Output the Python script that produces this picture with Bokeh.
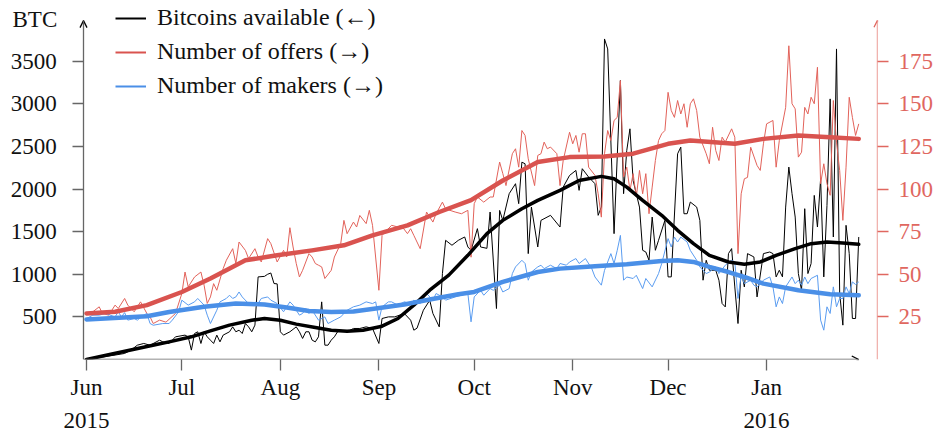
import pandas as pd
from bokeh.plotting import figure
from bokeh.models import (Range1d, LinearAxis, FixedTicker, Arrow, OpenHead,
                          Legend, LegendItem, Label)
from bokeh.embed import file_html
from bokeh.resources import INLINE

START = "2015-06-01"

# ---- Bitcoins available (left axis), day offset from START ----
btc_days = [0, 5, 9, 12, 14, 16, 18, 20, 23, 24,
            26, 28, 31, 32, 33, 34, 35, 36, 37, 38,
            39, 40, 41, 42, 43, 45, 46, 47, 48, 49,
            50, 51, 52, 53, 54, 56, 57, 58, 59, 60,
            61, 62, 64, 66, 67, 68, 69, 70, 71, 72,
            73, 74, 75, 76, 77, 78, 79, 80, 82, 84,
            86, 88, 90, 92, 93, 95, 97, 100, 102, 103,
            104, 106, 108, 109, 111, 112, 113, 115, 117, 119,
            120, 121, 123, 124, 126, 127, 129, 130, 131, 133,
            135, 136, 137, 138, 139, 140, 142, 143, 146, 149,
            150, 152, 154, 155, 156, 158, 160, 161, 162, 163,
            164, 166, 168, 169, 170, 171, 172, 174, 175, 176,
            177, 178, 179, 180, 182, 183, 184, 186, 187, 188,
            189, 190, 192, 193, 194, 195, 196, 198, 199, 200,
            201, 202, 203, 204, 205, 206, 207, 208, 210, 211,
            213, 215, 216, 217, 218, 219, 220, 221, 222, 223,
            224, 225, 226, 227, 228, 229, 230, 231, 232, 233,
            234, 235, 236, 237, 238, 239, 240, 241, 242, 243]
btc_vals = [0, 30, 52, 71, 110, 168, 188, 168, 227, 207,
            188, 266, 286, 266, 110, 305, 325, 188, 325, 266,
            227, 188, 286, 207, 286, 325, 383, 325, 344, 305,
            422, 383, 325, 403, 969, 975, 1000, 1015, 891, 887,
            325, 286, 325, 383, 325, 247, 325, 325, 227, 207,
            266, 676, 168, 168, 227, 266, 325, 344, 325, 364,
            364, 383, 364, 188, 481, 500, 500, 540, 461, 344,
            367, 578, 695, 540, 383, 1008, 1398, 1340, 1398, 1437,
            1320, 1281, 1535, 1320, 1304, 1730, 598, 1749, 1632, 1945,
            2062, 1828, 2315, 2296, 1242, 1788, 1320, 1632, 1691, 1554,
            2022, 2159, 2218, 1984, 2238, 2140, 2062, 1691, 1788, 3760,
            3643, 1476, 3272, 1945, 2452, 2706, 2100, 1788, 1281, 1261,
            1164, 1671, 1281, 1398, 1632, 969, 969, 2413, 2491, 1710,
            1710, 1847, 1788, 1632, 930, 1164, 1047, 1047, 930, 657,
            617, 1242, 1301, 851, 422, 1047, 851, 1242, 1203, 734,
            1242, 1261, 1242, 969, 1047, 969, 1788, 2257, 1945, 1671,
            1008, 813, 1769, 1008, 1125, 1925, 1554, 2121, 969, 1808,
            3057, 1437, 3643, 774, 403, 1574, 1242, 481, 481, 1437]

# ---- Number of offers (right axis) ----
offer_days = [0, 2, 4, 5, 7, 9, 10, 12, 13, 15,
              17, 19, 20, 21, 23, 25, 28, 30, 31, 32,
              34, 36, 37, 38, 39, 40, 41, 43, 44, 46,
              47, 48, 50, 51, 53, 54, 55, 57, 58, 60,
              62, 63, 64, 65, 66, 67, 68, 70, 71, 72,
              73, 74, 75, 77, 78, 80, 81, 82, 84, 85,
              86, 88, 89, 90, 92, 93, 96, 98, 99, 101,
              102, 103, 105, 107, 109, 110, 112, 113, 116, 118,
              120, 121, 122, 123, 125, 127, 128, 130, 131, 132,
              134, 135, 136, 137, 138, 139, 141, 142, 143, 144,
              145, 146, 148, 149, 150, 152, 153, 154, 155, 156,
              157, 158, 160, 161, 162, 163, 164, 165, 166, 167,
              168, 169, 170, 171, 172, 173, 174, 175, 176, 177,
              178, 179, 180, 181, 182, 183, 184, 185, 186, 187,
              188, 189, 190, 191, 192, 193, 195, 196, 197, 198,
              199, 200, 201, 203, 204, 205, 206, 207, 208, 209,
              211, 212, 213, 214, 216, 217, 218, 220, 221, 222,
              223, 224, 225, 226, 227, 228, 229, 230, 231, 232,
              233, 234, 235, 236, 237, 238, 239, 240, 241, 242,
              243]
offer_vals = [27, 28, 30.9, 27, 26, 31.9, 29.9, 35.8, 31.9, 28,
              33.8, 27, 25, 21.1, 23.1, 21.9, 27, 38.7, 51.3, 42.6,
              48.4, 51.3, 43.6, 32.9, 36.7, 44.5, 40.6, 53.3, 58.2, 65,
              56.3, 68.9, 64, 59.2, 65, 60.1, 57.2, 70.9, 68, 57.2,
              64, 60.1, 77.3, 66, 56.3, 48.4, 52.3, 62.1, 60.1, 56.3,
              55.3, 54.3, 47.5, 52.3, 60.1, 68, 81.6, 73.8, 80.6, 77.7,
              84.5, 79.7, 87.5, 78.7, 40.6, 72.8, 78.7, 77.7, 78.7, 73.8,
              76.7, 72.8, 65, 86.5, 80.6, 85.5, 92.3, 88.3, 86.5, 85.5,
              87.5, 60, 91.4, 95.3, 92.3, 95.3, 95.3, 115.8, 109, 102,
              120.7, 123.6, 112.8, 134.3, 131.4, 117.7, 102, 119.7, 120.7, 127.5,
              123.6, 124.6, 120.7, 102, 116.7, 133.3, 126.5, 131.4, 121.6, 132.4,
              132.4, 112.8, 108, 97.2, 83.5, 120.7, 134.3, 128.4, 140.2, 142,
              163.6, 107, 112.8, 99.2, 109, 95.3, 110.9, 97.2, 109, 85.5,
              101.1, 116.7, 128.4, 132.4, 134.3, 156.7, 146, 142, 151.9, 144,
              150, 136.2, 150, 152.9, 146, 130.4, 120.7, 114.8, 136.2, 122.6,
              116.7, 130.4, 127.5, 135.3, 130.4, 62.1, 97.2, 106, 106.8, 124.5,
              113.8, 110.9, 126.5, 138.2, 140.2, 112.8, 128.4, 147.9, 184, 150,
              147, 118.7, 121.6, 147.9, 144, 153.8, 150, 171.4, 103.1, 114.8,
              103.1, 96.3, 151.9, 127.5, 110.9, 81.6, 112.8, 153.8, 142, 131.4,
              138.2]

# ---- Number of makers (right axis) ----
maker_days = [0, 2, 4, 6, 9, 10, 11, 12, 13, 15,
              16, 18, 19, 20, 21, 24, 26, 27, 29, 30,
              32, 34, 35, 37, 38, 39, 41, 42, 44, 45,
              46, 47, 48, 49, 51, 52, 54, 55, 57, 58,
              60, 62, 63, 64, 65, 67, 68, 69, 70, 71,
              73, 75, 76, 78, 80, 81, 82, 84, 86, 88,
              90, 91, 92, 93, 95, 96, 98, 100, 102, 103,
              105, 107, 109, 110, 112, 113, 116, 118, 120, 121,
              122, 124, 125, 127, 128, 130, 131, 133, 134, 135,
              137, 138, 139, 140, 142, 143, 144, 146, 148, 149,
              151, 152, 154, 155, 157, 159, 160, 162, 163, 165,
              166, 167, 168, 169, 170, 172, 173, 175, 176, 178,
              180, 181, 183, 184, 185, 186, 187, 189, 190, 192,
              193, 195, 196, 198, 199, 201, 203, 204, 205, 206,
              207, 209, 210, 211, 213, 215, 216, 217, 218, 219,
              220, 222, 223, 224, 225, 226, 227, 228, 230, 231,
              232, 233, 234, 235, 236, 237, 238, 239, 240, 241,
              242, 243]
maker_vals = [24, 26, 26, 27, 25, 28, 25, 27.5, 23.1, 24,
              23.1, 26, 27, 21.1, 20.1, 21.1, 21.1, 23.1, 28, 34.8,
              31.9, 33.8, 35.8, 31.9, 26, 21.1, 28.9, 33.8, 35.8, 37.7,
              35.8, 36.7, 39.6, 36.7, 32.8, 31.9, 32.8, 35.8, 36.7, 34.8,
              32.8, 28, 30.9, 33.8, 31.9, 26, 27, 29.9, 27, 28.9,
              23.1, 25, 21.1, 23.1, 25, 27, 28.9, 30.9, 31.9, 33.8,
              32.8, 33.8, 23.1, 30.9, 33.8, 33.8, 31.9, 33.8, 32.8, 34.8,
              32.8, 38.7, 34.8, 38.7, 36.7, 34.8, 36.7, 37.7, 38.7, 22.1,
              36.7, 40.6, 37.7, 41.6, 40.6, 43.6, 39.6, 41.6, 50.4, 54.3,
              58.2, 56.3, 46.5, 51.3, 54.3, 55.3, 53.3, 55.3, 53.3, 56.3,
              55.3, 57.2, 59.2, 56.3, 59.2, 53.3, 48.4, 43.6, 52.3, 62.1,
              56.3, 64, 72.8, 46.5, 48.4, 47.5, 49.4, 41.6, 47.5, 42.6,
              50.4, 56.3, 70.9, 66, 71.8, 68.9, 71.8, 68.9, 64, 58.2,
              54.3, 50.4, 51.3, 54.3, 50.4, 55.3, 58.2, 57.2, 35.8, 49.4,
              44.5, 46.5, 43.6, 42.6, 46.5, 48.4, 42.6, 30.9, 36.7, 32.8,
              42.6, 48.4, 44.5, 46.5, 43.6, 48.4, 44.5, 47.5, 49.4, 23.1,
              17.2, 30.9, 27, 42.6, 30.9, 35.8, 35.8, 42.6, 38.7, 45.5,
              44, 45.5]

# ---- smoothed trends ----
btc_trend_days = [0, 8, 15, 22, 26, 33, 39, 45, 52, 56,
                  61, 66, 72, 77, 82, 87, 93, 98, 103, 108,
                  114, 120, 126, 131, 137, 142, 149, 155, 162, 166,
                  170, 175, 181, 186, 191, 196, 202, 207, 212, 217,
                  223, 228, 233, 238, 243]
btc_trend_vals = [0, 64, 120, 175, 207, 266, 336, 403, 461, 481,
                  461, 415, 376, 344, 332, 344, 391, 481, 637, 813,
                  990, 1222, 1476, 1632, 1769, 1866, 1984, 2100, 2148, 2121,
                  2022, 1866, 1691, 1515, 1359, 1222, 1144, 1117, 1144, 1222,
                  1301, 1359, 1378, 1367, 1351]
offer_trend_days = [0, 9, 19, 30, 39, 50, 60, 71, 81, 90,
                    101, 111, 121, 131, 142, 152, 163, 172, 183, 190,
                    204, 213, 224, 234, 243]
offer_trend_vals = [27, 28, 31.9, 39.6, 47.5, 58.2, 61.1, 64, 67, 72.8,
                    78.7, 86.5, 93.5, 105, 115.8, 118.7, 119, 120.7, 126.5, 128.4,
                    126.5, 129.4, 131.4, 130.4, 129.4]
maker_trend_days = [0, 19, 26, 37, 47, 56, 63, 70, 77, 84,
                    91, 100, 108, 117, 122, 131, 142, 149, 160, 170,
                    181, 186, 191, 196, 202, 207, 213, 224, 234, 243]
maker_trend_vals = [23.5, 25.4, 27.9, 30.9, 32.8, 32.3, 30.5, 28.5, 27.8, 28.2,
                    29.9, 32.3, 35.2, 38.3, 39.6, 45.5, 51.3, 53.3, 54.7, 55.9,
                    57.8, 58.2, 57.2, 54.3, 51.3, 48.4, 44.5, 40.6, 38.3, 37.7]

month_ticks = ["2015-06-01", "2015-07-01", "2015-08-01", "2015-09-01",
               "2015-10-01", "2015-11-01", "2015-12-01", "2016-01-01"]
month_labels = ["Jun\n2015", "Jul", "Aug", "Sep", "Oct", "Nov", "Dec", "Jan\n2016"]
btc_ticks = [500, 1000, 1500, 2000, 2500, 3000, 3500]
count_ticks = [25, 50, 75, 100, 125, 150, 175]
legend_labels = ["Bitcoins available (\u2190)", "Number of offers (\u2192)",
                 "Number of makers (\u2192)"]
left_unit = "BTC"

t0 = pd.Timestamp(START)
NAN = float("nan")


def dates(days):
    return (t0 + pd.to_timedelta(days, unit="D")).values


def ms(ts):
    return pd.Timestamp(ts).value / 1e6


PX_PER_DAY = 3.178
FRAME_W, FRAME_H = 877, 359
BTC_TOP = 4000 * FRAME_H / 341.0          # 0..4000 spans 341 px
x_axis_pos = t0 - pd.Timedelta(days=0.944)                 # where the y axis sits
x_lo = x_axis_pos - pd.Timedelta(days=83 / PX_PER_DAY)     # room for y tick labels
x_hi = x_lo + pd.Timedelta(days=FRAME_W / PX_PER_DAY)
x_axis_end = t0 + pd.Timedelta(days=243)

FONT = "Liberation Serif"
RED = "#d9534f"
RED_THIN = "#e2625a"
RED_AXIS = "#e0675f"
BLUE = "#4a8fe7"
BLUE_THIN = "#5a9cf0"
GREY = "#666666"

p = figure(x_axis_type="datetime", frame_width=FRAME_W, frame_height=FRAME_H,
           min_border_left=0, min_border_right=60, min_border_top=0,
           min_border_bottom=75,
           x_range=Range1d(x_lo, x_hi), y_range=Range1d(0, BTC_TOP),
           output_backend="svg", toolbar_location=None)
p.extra_y_ranges = {"cnt": Range1d(0, BTC_TOP / 20.0)}
p.outline_line_color = None
p.grid.visible = False
p.background_fill_color = "white"

# raw series
p.line(dates(btc_days), btc_vals, color="black", line_width=1)
p.line(dates(offer_days), offer_vals, color=RED_THIN, line_width=1, y_range_name="cnt")
p.line(dates(maker_days), maker_vals, color=BLUE_THIN, line_width=1, y_range_name="cnt")
# trends
p.line(dates(btc_trend_days), btc_trend_vals, color="black", line_width=3.5,
       line_join="round", line_cap="round")
p.line(dates(offer_trend_days), offer_trend_vals, color=RED, line_width=4.5,
       line_join="round", line_cap="round", y_range_name="cnt")
p.line(dates(maker_trend_days), maker_trend_vals, color=BLUE, line_width=4.5,
       line_join="round", line_cap="round", y_range_name="cnt")

# axes
xa = p.xaxis[0]
xa.ticker = FixedTicker(ticks=[ms(t) for t in month_ticks])
xa.major_label_overrides = {ms(t): lab for t, lab in zip(month_ticks, month_labels)}
xa.axis_line_color = None
xa.major_tick_out = 11
xa.major_tick_in = 0
xa.minor_tick_line_color = None
xa.major_tick_line_color = GREY
xa.major_tick_line_width = 1.3
xa.major_label_text_font = FONT
xa.major_label_text_font_size = "23px"
xa.major_label_text_color = "#111111"
xa.major_label_text_line_height = 1.33
xa.major_label_standoff = 4

ya = p.yaxis[0]
ya.fixed_location = ms(x_axis_pos)
ya.ticker = FixedTicker(ticks=btc_ticks)
# a non-breaking space keeps the labels a little clear of the tick marks
ya.major_label_overrides = {t: f"{t}\u00a0" for t in btc_ticks}
ya.axis_line_color = None
ya.major_tick_out = 11
ya.major_tick_in = 0
ya.minor_tick_line_color = None
ya.major_tick_line_color = GREY
ya.major_tick_line_width = 1.3
ya.major_label_text_font = FONT
ya.major_label_text_font_size = "23px"
ya.major_label_text_color = "#111111"
ya.major_label_standoff = 10

ra = LinearAxis(y_range_name="cnt", ticker=FixedTicker(ticks=count_ticks))
ra.axis_line_color = None
ra.major_tick_out = 11
ra.major_tick_in = 0
ra.minor_tick_line_color = None
ra.major_tick_line_color = RED_AXIS
ra.major_tick_line_width = 1.3
ra.major_label_text_font = FONT
ra.major_label_text_font_size = "23px"
ra.major_label_text_color = RED_AXIS
ra.major_label_standoff = 10
p.add_layout(ra, "right")

# axis lines with arrow heads
p.add_layout(Arrow(x_start=ms(x_axis_pos), y_start=0, x_end=ms(x_axis_end), y_end=0,
                   line_color=GREY, line_width=1.3,
                   end=OpenHead(size=7, line_color="black", line_width=1.3)))
p.add_layout(Arrow(x_start=ms(x_axis_pos), y_start=0, x_end=ms(x_axis_pos), y_end=3975,
                   line_color=GREY, line_width=1.3,
                   end=OpenHead(size=7, line_color="black", line_width=1.3)))
p.add_layout(Arrow(x_start=ms(x_hi), y_start=0, x_end=ms(x_hi), y_end=199,
                   y_range_name="cnt", line_color=RED_AXIS, line_width=1.3,
                   end=OpenHead(size=7, line_color=RED_AXIS, line_width=1.3)))

# legend (legend-only glyphs, no visible data)
leg_r = [p.line(x=[ms(x_lo), ms(x_lo)], y=[NAN, NAN], color=c, line_width=2)
         for c in ("black", RED, BLUE)]
legend = Legend(items=[LegendItem(label=l, renderers=[r]) for l, r in zip(legend_labels, leg_r)],
                location=(115, 260), orientation="vertical",
                glyph_width=31, glyph_height=20, label_height=20, label_standoff=11,
                spacing=7, padding=0, margin=0, border_line_color=None,
                background_fill_alpha=0, label_text_font=FONT,
                label_text_font_size="24px", label_text_color="#111111")
p.add_layout(legend)

# "BTC" unit label at the top of the left axis
p.add_layout(Label(x=12, y=FRAME_H - 18.5, x_units="screen", y_units="screen",
                   text=left_unit, text_font=FONT, text_font_size="23px",
                   text_baseline="middle", text_color="#111111"))

open("out.html", "w").write(file_html(p, INLINE, title="Bitcoins available"))
